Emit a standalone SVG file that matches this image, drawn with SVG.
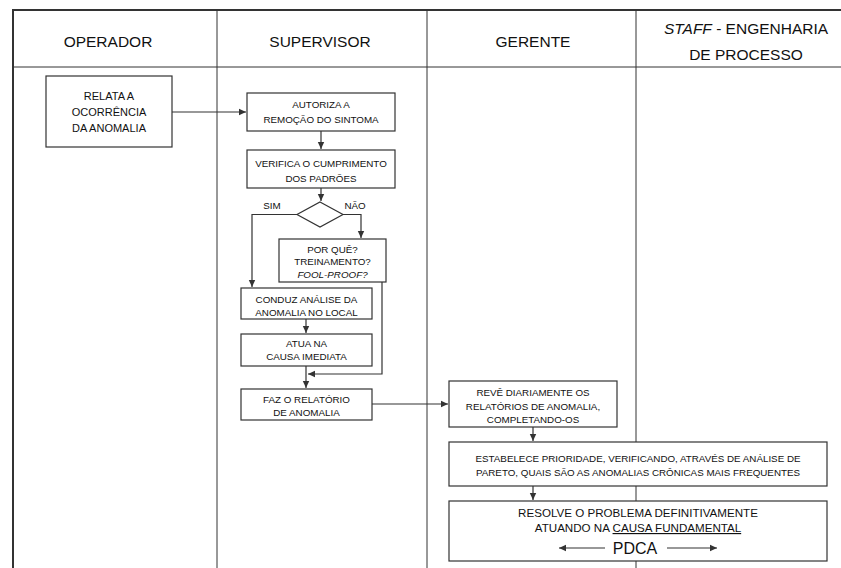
<svg xmlns="http://www.w3.org/2000/svg" width="841" height="568" viewBox="0 0 841 568">
<style>
.ln{stroke:#333;fill:none}
.bx{fill:#fff;stroke:#333;stroke-width:1.2}
.cn{stroke:#333;stroke-width:1.2;fill:none}
text{font-family:"Liberation Sans",Arial,sans-serif;fill:#111;text-anchor:middle}
.h{font-size:15.5px}
.m{font-size:11px}
.r{font-size:11.6px}
.s{font-size:9.8px}
</style>
<defs>
<marker id="ar" markerWidth="8" markerHeight="8" refX="7" refY="4" orient="auto" markerUnits="userSpaceOnUse">
<path d="M0,0.8 L7,4 L0,7.2 Z" fill="#333"/>
</marker>
</defs>
<rect width="841" height="568" fill="#fff"/>
<g id="lanes">
<line class="ln" x1="12" y1="10" x2="841" y2="10" stroke-width="2"/>
<line class="ln" x1="13" y1="10" x2="13" y2="568" stroke-width="2"/>
<line class="ln" x1="13" y1="67" x2="841" y2="67" stroke-width="1"/>
<line class="ln" x1="217" y1="10" x2="217" y2="568" stroke-width="1"/>
<line class="ln" x1="427" y1="10" x2="427" y2="568" stroke-width="1"/>
<line class="ln" x1="636" y1="10" x2="636" y2="568" stroke-width="1"/>
<text class="h" x="108" y="47">OPERADOR</text>
<text class="h" x="320" y="47">SUPERVISOR</text>
<text class="h" x="533" y="47">GERENTE</text>
<text class="h" x="746" y="34"><tspan font-style="italic">STAFF</tspan> - ENGENHARIA</text>
<text class="h" x="746" y="60">DE PROCESSO</text>
</g>
<g id="connectors">
<path class="cn" d="M172,112 H246" marker-end="url(#ar)"/>
<path class="cn" d="M321,131 V149" marker-end="url(#ar)"/>
<path class="cn" d="M321,188 V201" marker-end="url(#ar)"/>
<path class="cn" d="M297,214.5 H252 V287" marker-end="url(#ar)"/>
<path class="cn" d="M343,214.5 H361 V238" marker-end="url(#ar)"/>
<path class="cn" d="M306,319 V333" marker-end="url(#ar)"/>
<path class="cn" d="M382,282 V374 H308" marker-end="url(#ar)"/>
<path class="cn" d="M306,366 V388" marker-end="url(#ar)"/>
<path class="cn" d="M372,404 H448" marker-end="url(#ar)"/>
<path class="cn" d="M533,427 V441" marker-end="url(#ar)"/>
<path class="cn" d="M533,486 V500" marker-end="url(#ar)"/>
<text class="s" x="272" y="209">SIM</text>
<text class="s" x="355" y="209">NÃO</text>
</g>
<g id="n-relata">
<rect class="bx" x="46" y="76" width="126" height="71"/>
<text class="m" x="109" y="100">RELATA A</text>
<text class="m" x="109" y="116">OCORRÊNCIA</text>
<text class="m" x="109" y="132">DA ANOMALIA</text>
</g>
<g id="n-autoriza">
<rect class="bx" x="247" y="93" width="148" height="38"/>
<text class="s" x="321" y="108">AUTORIZA A</text>
<text class="s" x="321" y="123">REMOÇÃO DO SINTOMA</text>
</g>
<g id="n-verifica">
<rect class="bx" x="247" y="150" width="148" height="38"/>
<text class="s" x="321" y="167">VERIFICA O CUMPRIMENTO</text>
<text class="s" x="321" y="182">DOS PADRÕES</text>
</g>
<g id="n-decisao">
<polygon class="bx" points="320,202 343,214.5 320,227 297,214.5"/>
</g>
<g id="n-porque">
<rect class="bx" x="279" y="239" width="107" height="43"/>
<text class="s" x="332.5" y="253">POR QUÊ?</text>
<text class="s" x="332.5" y="265">TREINAMENTO?</text>
<text class="s" x="332.5" y="278" font-style="italic">FOOL-PROOF?</text>
</g>
<g id="n-conduz">
<rect class="bx" x="241" y="288" width="131" height="31"/>
<text class="s" x="306.5" y="303">CONDUZ ANÁLISE DA</text>
<text class="s" x="306.5" y="316">ANOMALIA NO LOCAL</text>
</g>
<g id="n-atua">
<rect class="bx" x="241" y="334" width="131" height="32"/>
<text class="s" x="306.5" y="347">ATUA NA</text>
<text class="s" x="306.5" y="360">CAUSA IMEDIATA</text>
</g>
<g id="n-faz">
<rect class="bx" x="241" y="389" width="131" height="31"/>
<text class="s" x="306.5" y="403">FAZ O RELATÓRIO</text>
<text class="s" x="306.5" y="416">DE ANOMALIA</text>
</g>
<g id="n-reve">
<rect class="bx" x="449" y="381" width="168" height="46"/>
<text class="s" x="533" y="396">REVÊ DIARIAMENTE OS</text>
<text class="s" x="533" y="410">RELATÓRIOS DE ANOMALIA,</text>
<text class="s" x="533" y="423">COMPLETANDO-OS</text>
</g>
<g id="n-estabelece">
<rect class="bx" x="449" y="442" width="378" height="44"/>
<text class="s" x="638" y="462">ESTABELECE PRIORIDADE, VERIFICANDO, ATRAVÉS DE ANÁLISE DE</text>
<text class="s" x="638" y="476">PARETO, QUAIS SÃO AS ANOMALIAS CRÔNICAS MAIS FREQUENTES</text>
</g>
<g id="n-resolve">
<rect class="bx" x="449" y="501" width="378" height="60"/>
<text class="r" x="638" y="517">RESOLVE O PROBLEMA DEFINITIVAMENTE</text>
<text class="r" x="638" y="532">ATUANDO NA <tspan text-decoration="underline">CAUSA FUNDAMENTAL</tspan></text>
<text x="635" y="554" font-size="16">PDCA</text>
<path class="cn" d="M605,548 H559" marker-end="url(#ar)"/>
<path class="cn" d="M667,548 H717" marker-end="url(#ar)"/>
</g>
</svg>
